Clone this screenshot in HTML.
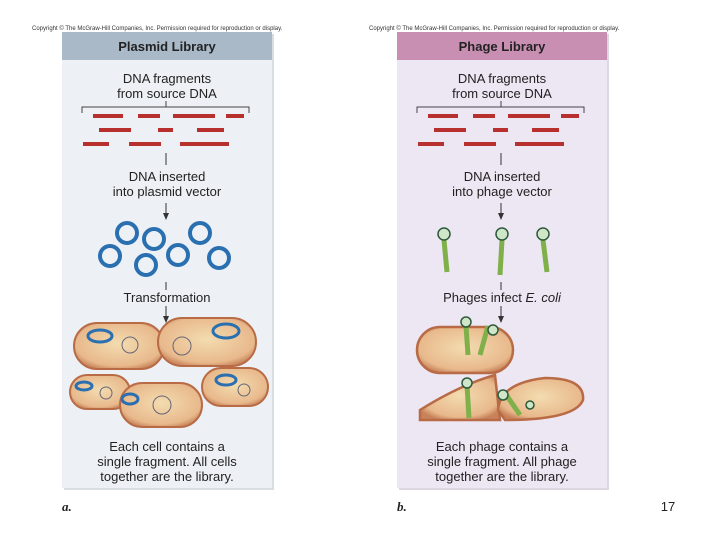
<!DOCTYPE html>
<html><head><style>body{margin:0;background:#fff}svg{display:block}text{font-family:"Liberation Sans",sans-serif}</style></head><body>
<svg width="720" height="540" viewBox="0 0 720 540">
<defs>
<radialGradient id="cell" cx="50%" cy="45%" r="60%"><stop offset="0" stop-color="#f3dcb0"/><stop offset="0.8" stop-color="#e8b98c"/><stop offset="1" stop-color="#c8825a"/></radialGradient>
</defs>
<text x="32" y="30" font-size="6" fill="#333">Copyright © The McGraw-Hill Companies, Inc. Permission required for reproduction or display.</text>
<text x="369" y="30" font-size="6" fill="#333">Copyright © The McGraw-Hill Companies, Inc. Permission required for reproduction or display.</text>
<!-- Panel a -->
<rect x="64" y="34" width="210" height="456" fill="#d8dde2"/>
<rect x="62" y="32" width="210" height="456" fill="#edf1f5"/>
<rect x="62" y="32" width="210" height="28" fill="#a9b9c8"/>
<text x="167" y="51" font-size="13" font-weight="bold" fill="#222" text-anchor="middle">Plasmid Library</text>
<g font-size="13" fill="#222" text-anchor="middle">
<text x="167" y="83">DNA fragments</text><text x="167" y="98">from source DNA</text>
<text x="167" y="181">DNA inserted</text><text x="167" y="196">into plasmid vector</text>
<text x="167" y="302">Transformation</text>
<text x="167" y="451">Each cell contains a</text><text x="167" y="466">single fragment. All cells</text><text x="167" y="481">together are the library.</text>
</g>
<path d="M82 113V107H249V113M166 101V107" stroke="#444" fill="none"/>
<g fill="#b8302e">
<rect x="93" y="114" width="30" height="4"/><rect x="138" y="114" width="22" height="4"/><rect x="173" y="114" width="42" height="4"/><rect x="226" y="114" width="18" height="4"/>
<rect x="99" y="128" width="32" height="4"/><rect x="158" y="128" width="15" height="4"/><rect x="197" y="128" width="27" height="4"/>
<rect x="83" y="142" width="26" height="4"/><rect x="129" y="142" width="32" height="4"/><rect x="180" y="142" width="49" height="4"/>
</g>
<path d="M166 153V165M166 203V215" stroke="#333"/><path d="M163 213L166 220L169 213Z" fill="#333"/>
<g stroke="#2a6fb0" stroke-width="4" fill="none">
<circle cx="127" cy="233" r="10"/><circle cx="154" cy="239" r="10"/><circle cx="200" cy="233" r="10"/>
<circle cx="110" cy="256" r="10"/><circle cx="146" cy="265" r="10"/><circle cx="178" cy="255" r="10"/><circle cx="219" cy="258" r="10"/>
</g>
<path d="M166 282V290M166 306V318" stroke="#333"/><path d="M163 316L166 323L169 316Z" fill="#333"/>
<g stroke="#b86b45" stroke-width="2" fill="url(#cell)">
<rect x="74" y="323" width="90" height="46" rx="23"/><rect x="158" y="318" width="98" height="48" rx="24"/>
<rect x="70" y="375" width="60" height="34" rx="17"/><rect x="120" y="383" width="82" height="44" rx="22"/><rect x="202" y="368" width="66" height="38" rx="19"/>
</g>
<g stroke="#2a6fb0" stroke-width="3" fill="none">
<ellipse cx="100" cy="336" rx="12" ry="6"/><ellipse cx="226" cy="331" rx="13" ry="7"/><ellipse cx="84" cy="386" rx="8" ry="4"/><ellipse cx="226" cy="380" rx="10" ry="5"/><ellipse cx="130" cy="399" rx="8" ry="5"/>
</g>
<g stroke="#667" fill="none"><circle cx="130" cy="345" r="8"/><circle cx="182" cy="346" r="9"/><circle cx="106" cy="393" r="6"/><circle cx="162" cy="405" r="9"/><circle cx="244" cy="390" r="6"/></g>
<text x="62" y="511" font-size="13" font-weight="bold" font-style="italic" font-family="Liberation Serif" fill="#222" style="font-family:'Liberation Serif',serif">a.</text>
<!-- Panel b -->
<rect x="399" y="34" width="210" height="456" fill="#dcd6e0"/>
<rect x="397" y="32" width="210" height="456" fill="#ede6f3"/>
<rect x="397" y="32" width="210" height="28" fill="#c98fb3"/>
<text x="502" y="51" font-size="13" font-weight="bold" fill="#222" text-anchor="middle">Phage Library</text>
<g font-size="13" fill="#222" text-anchor="middle">
<text x="502" y="83">DNA fragments</text><text x="502" y="98">from source DNA</text>
<text x="502" y="181">DNA inserted</text><text x="502" y="196">into phage vector</text>
<text x="502" y="302">Phages infect <tspan font-style="italic">E. coli</tspan></text>
<text x="502" y="451">Each phage contains a</text><text x="502" y="466">single fragment. All phage</text><text x="502" y="481">together are the library.</text>
</g>
<path d="M417 113V107H584V113M501 101V107" stroke="#444" fill="none"/>
<g fill="#b8302e">
<rect x="428" y="114" width="30" height="4"/><rect x="473" y="114" width="22" height="4"/><rect x="508" y="114" width="42" height="4"/><rect x="561" y="114" width="18" height="4"/>
<rect x="434" y="128" width="32" height="4"/><rect x="493" y="128" width="15" height="4"/><rect x="532" y="128" width="27" height="4"/>
<rect x="418" y="142" width="26" height="4"/><rect x="464" y="142" width="32" height="4"/><rect x="515" y="142" width="49" height="4"/>
</g>
<path d="M501 153V165M501 203V215" stroke="#333"/><path d="M498 213L501 220L504 213Z" fill="#333"/>
<g stroke="#7fb04a" stroke-width="5">
<path d="M444 240L447 272"/><path d="M502 240L500 275"/><path d="M543 240L547 272"/>
</g>
<g fill="#cfe6c8" stroke="#2d5a3a" stroke-width="1.5"><circle cx="444" cy="234" r="6"/><circle cx="502" cy="234" r="6"/><circle cx="543" cy="234" r="6"/></g>
<path d="M501 282V290M501 306V318" stroke="#333"/><path d="M498 316L501 323L504 316Z" fill="#333"/>
<g stroke="#b86b45" stroke-width="2.5" fill="url(#cell)">
<rect x="417" y="327" width="96" height="46" rx="23"/>
<path d="M420 410Q460 385 495 375L500 420H420Z"/><path d="M498 410Q500 383 545 378Q585 378 583 400Q575 420 505 420Z"/>
</g>
<g stroke="#7fb04a" stroke-width="5"><path d="M466 326L468 355"/><path d="M488 326L480 355"/><path d="M467 385L469 418"/><path d="M505 393L520 415"/></g>
<g fill="#cfe6c8" stroke="#2d5a3a" stroke-width="1.5"><circle cx="466" cy="322" r="5"/><circle cx="493" cy="330" r="5"/><circle cx="467" cy="383" r="5"/><circle cx="503" cy="395" r="5"/><circle cx="530" cy="405" r="4"/></g>
<text x="397" y="511" font-size="13" font-weight="bold" font-style="italic" fill="#222" style="font-family:'Liberation Serif',serif">b.</text>
<text x="668" y="511" font-size="13" fill="#222" text-anchor="middle">17</text>
</svg>
</body></html>
